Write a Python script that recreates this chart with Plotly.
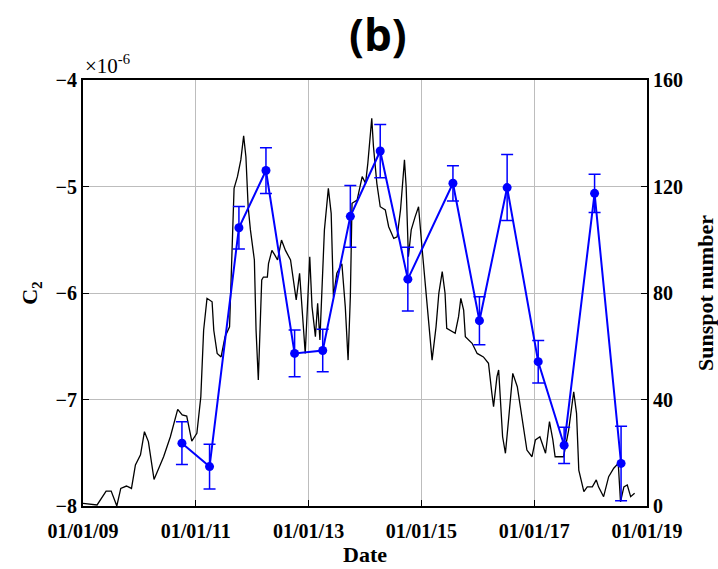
import plotly.graph_objects as go
import pandas as pd

# Sunspot number (black line), decimal year vs value
ssn_year = [2009.00, 2009.25, 2009.41, 2009.50, 2009.60, 2009.67, 2009.77, 2009.86, 2009.93, 2010.02,
            2010.09, 2010.16, 2010.26, 2010.43, 2010.55, 2010.68, 2010.76, 2010.84, 2010.93, 2011.02,
            2011.09, 2011.14, 2011.20, 2011.29, 2011.32, 2011.38, 2011.45, 2011.52, 2011.60, 2011.64,
            2011.68, 2011.74, 2011.80, 2011.85, 2011.89, 2011.93, 2011.97, 2012.04, 2012.07, 2012.11,
            2012.14, 2012.17, 2012.20, 2012.27, 2012.29, 2012.35, 2012.40, 2012.45, 2012.52, 2012.59,
            2012.68, 2012.73, 2012.78, 2012.84, 2012.87, 2012.91, 2012.94, 2013.02, 2013.06, 2013.12,
            2013.16, 2013.20, 2013.26, 2013.28, 2013.35, 2013.40, 2013.44, 2013.50, 2013.59, 2013.65,
            2013.70, 2013.74, 2013.77, 2013.86, 2013.95, 2014.01, 2014.05, 2014.09, 2014.12, 2014.15,
            2014.21, 2014.27, 2014.36, 2014.42, 2014.51, 2014.57, 2014.63, 2014.70, 2014.73, 2014.77,
            2014.82, 2014.89, 2014.95, 2015.01, 2015.07, 2015.12, 2015.19, 2015.26, 2015.31, 2015.37,
            2015.42, 2015.45, 2015.60, 2015.66, 2015.70, 2015.75, 2015.78, 2015.90, 2015.99, 2016.10,
            2016.19, 2016.25, 2016.28, 2016.34, 2016.37, 2016.44, 2016.49, 2016.55, 2016.62, 2016.70,
            2016.78, 2016.87, 2016.96, 2017.02, 2017.10, 2017.20, 2017.27, 2017.33, 2017.37, 2017.52,
            2017.61, 2017.70, 2017.75, 2017.79, 2017.88, 2017.94, 2018.03, 2018.10, 2018.14, 2018.23,
            2018.32, 2018.41, 2018.49, 2018.53, 2018.59, 2018.65, 2018.71, 2018.78]
ssn_value = [1, 0.4, 5.6, 5.6, 0, 6.6, 7.5, 6.6, 15.4, 19.2,
             27.9, 24.2, 10, 18.5, 26, 36.3, 34.2, 33.8, 24.4, 27.3,
             41, 66, 78, 76.7, 66, 57.3, 56, 63.6, 67.3, 91,
             119.3, 123.7, 130, 139, 131.2, 112.4, 103.7, 92.4, 66, 47.3,
             63.6, 84.9, 86, 86, 91, 96, 94.3, 92.4, 99.9, 96,
             92.4, 84.9, 77.4, 87.4, 78.6, 64.9, 57.3, 93.6, 74.9, 63.6,
             76.1, 62.4, 91, 103.7, 119.3, 109.9, 78.6, 87.4, 91, 74.9,
             54.8, 78.6, 113.7, 114.9, 123.7, 121.2, 128.7, 138.7, 145.6, 135,
             121.2, 112.4, 111.2, 104.9, 100.5, 101.1, 111.2, 130, 120, 93.6,
             103.7, 108.7, 112.4, 97.4, 82.4, 69.9, 54.8, 67.3, 79.9, 88,
             79.9, 66.7, 64.9, 71.1, 78, 73.6, 63.6, 61.1, 57.3, 56,
             53.6, 42.3, 37.3, 48.6, 51.1, 26, 19.8, 33.5, 49.8, 44.8,
             33.5, 21, 18.5, 24.8, 26, 19.8, 31.7, 24.8, 18.5, 18.5,
             28.5, 42.9, 34.8, 13.5, 5.4, 7.2, 7.2, 9.8, 7.2, 3.5,
             11, 14.2, 16, 1.6, 7.2, 7.9, 3.5, 4.8]

# C2 estimates (blue), in units of 1e-6
c2_year = [2010.755, 2011.245, 2011.766, 2012.245, 2012.752, 2013.25, 2013.74, 2014.27,
           2014.76, 2015.56, 2016.03, 2016.52, 2017.07, 2017.53, 2018.07, 2018.54]
c2_value = [-7.41, -7.63, -5.387, -4.85, -6.567, -6.54, -5.28, -4.667,
            -5.87, -4.97, -6.26, -5.01, -6.645, -7.43, -5.064, -7.6]
c2_err = [0.2, 0.21, 0.2, 0.215, 0.22, 0.2, 0.29, 0.25,
          0.3, 0.165, 0.225, 0.31, 0.2, 0.17, 0.18, 0.35]


def to_date(y):
    yr = int(y)
    start = pd.Timestamp(year=yr, month=1, day=1)
    end = pd.Timestamp(year=yr + 1, month=1, day=1)
    return start + (end - start) * (y - yr)


ssn_dates = [to_date(y) for y in ssn_year]
c2_dates = [to_date(y) for y in c2_year]

tick_font = dict(family="Liberation Serif", size=20, color="black")
title_font = dict(family="Liberation Serif", size=22, color="black")
BLUE = "#0000ff"
GRID = "#bdbdbd"

fig = go.Figure()
fig.add_trace(go.Scatter(x=ssn_dates, y=ssn_value, mode="lines", yaxis="y",
                         line=dict(color="black", width=1.3), showlegend=False))
fig.add_trace(go.Scatter(x=c2_dates, y=c2_value, mode="lines+markers", yaxis="y2",
                         line=dict(color=BLUE, width=2),
                         marker=dict(color=BLUE, size=9),
                         error_y=dict(type="data", array=c2_err, color=BLUE, thickness=1.5, width=6),
                         showlegend=False))

fig.update_layout(
    width=718, height=569,
    margin=dict(l=83, r=71, t=80, b=63, autoexpand=False),
    paper_bgcolor="white", plot_bgcolor="white",
    font=dict(family="Liberation Serif", color="black"),
    xaxis=dict(type="date", range=["2009-01-01", "2019-01-01"], automargin=False,
               tick0="2009-01-01", dtick="M24", tickformat="%m/%d/%y",
               tickfont=tick_font, ticks="inside", ticklen=6, tickcolor="black",
               ticklabelstandoff=6, tickprefix="<b>", ticksuffix="</b>",
               showline=True, linecolor="black", linewidth=2, mirror=True,
               showgrid=True, gridcolor=GRID, gridwidth=1,
               title=dict(text="<b>Date</b>", font=title_font, standoff=4)),
    yaxis=dict(range=[0, 160], dtick=40, side="right", automargin=False,
               tickfont=tick_font, tickformat="d", ticks="inside", ticklen=6, tickcolor="black",
               tickprefix="<b>", ticksuffix="</b>",
               showline=True, linecolor="black", linewidth=2,
               showgrid=True, gridcolor=GRID, gridwidth=1, zeroline=False,
               title=dict(text="<b>Sunspot number</b>", font=title_font, standoff=18)),
    yaxis2=dict(range=[-8, -4], dtick=1, side="left", overlaying="y", automargin=False,
                tickfont=tick_font, ticks="inside", ticklen=6, tickcolor="black",
                tickprefix="<b>", ticksuffix="</b>",
                showline=True, linecolor="black", linewidth=2,
                showgrid=False, zeroline=False,
                title=dict(text="<b>C<sub>2</sub></b>", font=title_font, standoff=12)),
    annotations=[
        dict(text="<b>(b)</b>", x=0.523, y=1.0, xref="paper", yref="paper", yshift=46,
             showarrow=False, font=dict(family="Open Sans", size=44, color="black"),
             xanchor="center", yanchor="middle"),
        dict(text="×10<sup>-6</sup>", x=0.0, y=1.0, xref="paper", yref="paper",
             showarrow=False, font=dict(family="Liberation Serif", size=21, color="black"),
             xanchor="left", yanchor="bottom", yshift=0),
    ],
)

fig.write_html("out.html")
